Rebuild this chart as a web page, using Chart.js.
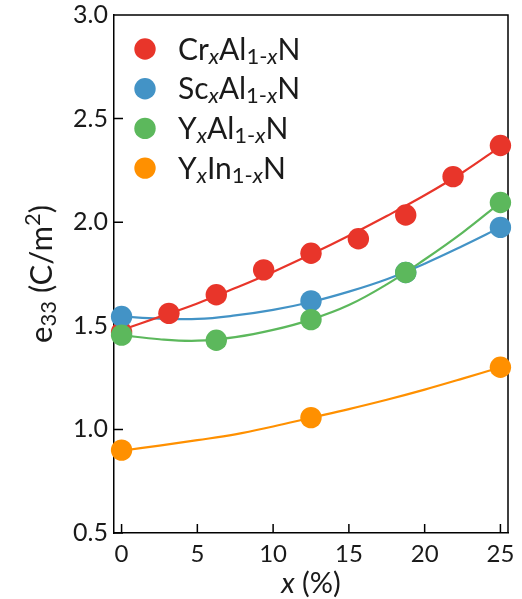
<!DOCTYPE html>
<html>
<head>
<meta charset="utf-8">
<script src="https://cdn.jsdelivr.net/npm/chart.js@4.4.1/dist/chart.umd.min.js"></script>
<style>
  html, body { margin: 0; padding: 0; background: #fff; }
  #wrap { width: 522px; height: 599px; }
</style>
</head>
<body>
<div id="wrap"><canvas id="chart"></canvas></div>
<script>
// measured points, x in %, e33 in C/m^2
const xCr = [0, 3.125, 6.25, 9.375, 12.5, 15.625, 18.75, 21.875, 25];
const eCr = [1.47, 1.56, 1.65, 1.77, 1.85, 1.92, 2.035, 2.22, 2.37];
const xSc = [0, 12.5, 18.75, 25];
const eSc = [1.545, 1.62, 1.757, 1.975];
const xYAl = [0, 6.25, 12.5, 18.75, 25];
const eYAl = [1.455, 1.43, 1.53, 1.757, 2.095];
const xYIn = [0, 12.5, 25];
const eYIn = [0.9, 1.057, 1.30];

// fitted curves
const fitX = [0, 2.5, 5, 7.5, 10, 12.5, 15, 17.5, 20, 22.5, 25];
const fitCr = [1.48, 1.543, 1.608, 1.682, 1.76, 1.845, 1.935, 2.03, 2.13, 2.24, 2.365];
const fitSc = [1.545, 1.535, 1.533, 1.55, 1.577, 1.615, 1.665, 1.725, 1.80, 1.885, 1.975];
const fitYAl = [1.455, 1.435, 1.428, 1.445, 1.48, 1.53, 1.60, 1.70, 1.82, 1.95, 2.095];
const fitYIn = [0.897, 0.922, 0.948, 0.976, 1.014, 1.056, 1.098, 1.143, 1.192, 1.245, 1.30];

const xTicks = [0, 5, 10, 15, 20, 25];
const yTicks = [0.5, 1.0, 1.5, 2.0, 2.5, 3.0];

const COLORS = ["#e8352a", "#4393c6", "#5cb85c", "#ff9000"];
const FONT = "Lato";

const pts = (xs, ys) => xs.map((v, i) => ({ x: v, y: ys[i] }));

// legend rows: parts of rich text
const LEGEND = [
  [["Cr"], ["x", "sub", true], ["Al"], ["1-", "sub"], ["x", "sub", true], ["N"]],
  [["Sc"], ["x", "sub", true], ["Al"], ["1-", "sub"], ["x", "sub", true], ["N"]],
  [["Y"], ["x", "sub", true], ["Al"], ["1-", "sub"], ["x", "sub", true], ["N"]],
  [["Y"], ["x", "sub", true], ["In"], ["1-", "sub"], ["x", "sub", true], ["N"]]
];

function partFont(p, size) {
  const s = p[1] === "sub" || p[1] === "sup" ? Math.round(size * 0.72) : size;
  return (p[2] ? "italic " : "") + s + "px " + FONT;
}
function partDy(p, size) {
  if (p[1] === "sub") return size * 0.14;
  if (p[1] === "sup") return -size * 0.38;
  return 0;
}
function richWidth(ctx, parts, size) {
  let w = 0;
  parts.forEach(p => { ctx.font = partFont(p, size); w += ctx.measureText(p[0]).width; });
  return w;
}
function drawRich(ctx, parts, x, y, size) {
  parts.forEach(p => {
    ctx.font = partFont(p, size);
    ctx.fillText(p[0], x, y + partDy(p, size));
    x += ctx.measureText(p[0]).width;
  });
}

const decor = {
  id: "decor",
  beforeDatasetsDraw(chart) {
    const { ctx, chartArea: a, scales: { x, y } } = chart;
    ctx.save();
    ctx.strokeStyle = "#000";
    ctx.lineWidth = 1.5;
    ctx.beginPath();
    ctx.moveTo(a.left, a.top);
    ctx.lineTo(a.right, a.top);
    ctx.lineTo(a.right, a.bottom);
    xTicks.forEach(v => {
      const px = x.getPixelForValue(v);
      ctx.moveTo(px, a.bottom);
      ctx.lineTo(px, a.bottom - 9);
    });
    yTicks.forEach(v => {
      const py = y.getPixelForValue(v);
      ctx.moveTo(a.left, py);
      ctx.lineTo(a.left + 9, py);
    });
    ctx.stroke();
    ctx.restore();
  },
  afterDraw(chart) {
    const { ctx, chartArea: a } = chart;
    ctx.save();
    ctx.fillStyle = "#1a1a1a";
    ctx.textBaseline = "alphabetic";

    // legend
    LEGEND.forEach((row, i) => {
      const cy = 49 + i * 39.7;
      ctx.beginPath();
      ctx.fillStyle = COLORS[i];
      ctx.arc(145, cy, 10.7, 0, Math.PI * 2);
      ctx.fill();
      ctx.fillStyle = "#1a1a1a";
      drawRich(ctx, row, 178, cy + 10.5, 30);
    });

    // y title
    const yt = [["e"], ["33", "sub"], [" (C/m"], ["2", "sup"], [")"]];
    ctx.save();
    ctx.translate(52, (a.top + a.bottom) / 2);
    ctx.rotate(-Math.PI / 2);
    const w = richWidth(ctx, yt, 31);
    drawRich(ctx, yt, -w / 2, 0, 31);
    ctx.restore();

    // x title
    const xt = [["x", "", true], [" (%)"]];
    const wx = richWidth(ctx, xt, 29);
    drawRich(ctx, xt, (a.left + a.right) / 2 - wx / 2, 593, 29);
    ctx.restore();
  }
};

const pointSet = (label, xs, ys, color, order) => ({
  type: "scatter",
  label,
  data: pts(xs, ys),
  backgroundColor: color,
  borderWidth: 0,
  pointRadius: 10.7,
  pointHoverRadius: 10.7,
  showLine: false,
  clip: false,
  order
});
const fitSet = (ys, color) => ({
  type: "line",
  data: pts(fitX, ys),
  borderColor: color,
  borderWidth: 2.2,
  pointRadius: 0,
  tension: 0.4,
  fill: false,
  order: 10
});

new Chart(document.getElementById("chart"), {
  type: "scatter",
  data: {
    datasets: [
      pointSet("CrAlN", xCr, eCr, COLORS[0], 4),
      pointSet("ScAlN", xSc, eSc, COLORS[1], 3),
      pointSet("YAlN", xYAl, eYAl, COLORS[2], 2),
      pointSet("YInN", xYIn, eYIn, COLORS[3], 1),
      fitSet(fitCr, COLORS[0]),
      fitSet(fitSc, COLORS[1]),
      fitSet(fitYAl, COLORS[2]),
      fitSet(fitYIn, COLORS[3])
    ]
  },
  options: {
    responsive: true,
    maintainAspectRatio: false,
    animation: false,
    layout: { padding: { top: 15, right: 14, left: 0, bottom: 0 } },
    plugins: {
      legend: { display: false },
      tooltip: { enabled: false }
    },
    scales: {
      x: {
        type: "linear",
        min: -0.5,
        max: 25.5,
        grid: { display: false, drawTicks: false },
        border: { display: true, color: "#000", width: 1.5 },
        ticks: {
          font: { family: FONT, size: 24 },
          color: "#1a1a1a",
          padding: 7,
          maxRotation: 0
        },
        afterBuildTicks: s => { s.ticks = xTicks.map(v => ({ value: v })); },
        afterFit: s => { s.height = 66; s.paddingLeft = 0; s.paddingRight = 0; }
      },
      y: {
        min: 0.5,
        max: 3.0,
        grid: { display: false, drawTicks: false },
        border: { display: true, color: "#000", width: 1.5 },
        ticks: {
          font: { family: FONT, size: 25 },
          color: "#1a1a1a",
          padding: 6,
          callback: v => v.toFixed(1)
        },
        afterBuildTicks: s => { s.ticks = yTicks.map(v => ({ value: v })); },
        afterFit: s => { s.width = 114; s.paddingTop = 0; s.paddingBottom = 0; }
      }
    }
  },
  plugins: [decor]
});
</script>
</body>
</html>
